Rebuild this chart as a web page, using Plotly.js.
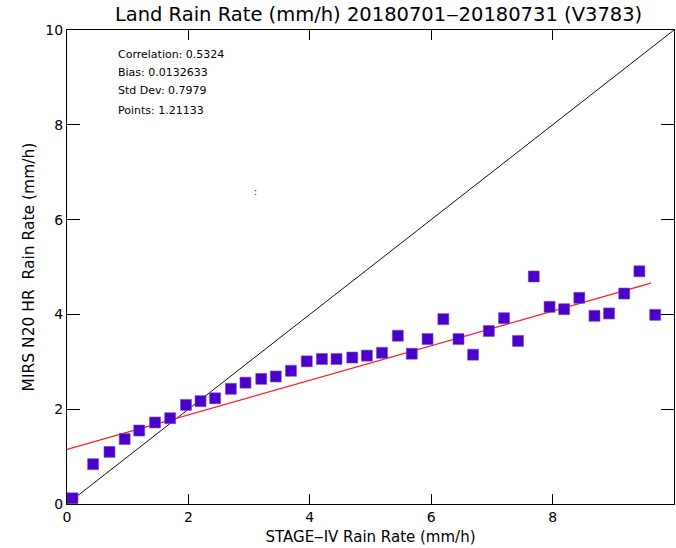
<!DOCTYPE html>
<html>
<head>
<meta charset="utf-8">
<script src="https://cdn.plot.ly/plotly-3.0.1.min.js"></script>
<style>html,body{margin:0;padding:0;background:#fff;}#chart{width:676px;height:548px;}</style>
</head>
<body>
<div id="chart"></div>
<script>
// Binned scatter: STAGE-IV rain rate (x) vs MIRS N20 HR rain rate (y)
const stageIV = [0.09, 0.43, 0.70, 0.95, 1.19, 1.45, 1.70, 1.96, 2.20, 2.44,
                 2.70, 2.94, 3.20, 3.44, 3.69, 3.95, 4.20, 4.44, 4.70, 4.94,
                 5.19, 5.45, 5.68, 5.94, 6.20, 6.45, 6.69, 6.95, 7.20, 7.43,
                 7.69, 7.95, 8.19, 8.44, 8.69, 8.93, 9.18, 9.43, 9.69];
const mirs    = [0.12, 0.84, 1.10, 1.37, 1.55, 1.72, 1.81, 2.09, 2.17, 2.23,
                 2.43, 2.56, 2.64, 2.69, 2.81, 3.01, 3.06, 3.06, 3.09, 3.13,
                 3.19, 3.55, 3.17, 3.48, 3.90, 3.48, 3.15, 3.65, 3.92, 3.44,
                 4.80, 4.16, 4.11, 4.35, 3.97, 4.02, 4.44, 4.91, 3.99];
// Fitted (red) line end points
const fitX = [0, 9.62];
const fitY = [1.15, 4.66];
// 1:1 reference line
const oneX = [0, 10];
const oneY = [0, 10];
// Statistics text
const statLabels = ["Correlation: 0.5324", "Bias: 0.0132633", "Std Dev: 0.7979", "Points: 1.21133"];

const traces = [
  {x: oneX, y: oneY, mode: 'lines', line: {color: '#111', width: 1}, hoverinfo: 'skip'},
  {x: fitX, y: fitY, mode: 'lines', line: {color: '#ff1a1a', width: 1.2}, hoverinfo: 'skip'},
  {x: stageIV, y: mirs, mode: 'markers', cliponaxis: false,
   marker: {symbol: 'square', size: 11, color: '#4a00c8', line: {color: '#7a4ad8', width: 0.6}}}
];

const statY = [0.949, 0.911, 0.872, 0.831];
const annotations = statLabels.map((t, i) => ({
  text: t, xref: 'paper', yref: 'paper', x: 0.08, y: statY[i],
  xanchor: 'left', yanchor: 'middle', showarrow: false,
  font: {family: 'DejaVu Sans, sans-serif', size: 11, color: '#000'}
}));
annotations.push({text: ':', xref: 'x', yref: 'y', x: 3.1, y: 6.58, showarrow: false,
  font: {family: 'DejaVu Sans, sans-serif', size: 9, color: '#000'}});

function axis(major, title, standoff, size) {
  return {
    range: [0, 10], autorange: false, showgrid: false, zeroline: false,
    showline: true, linecolor: '#000', linewidth: 1, mirror: 'ticks',
    tickmode: 'linear', tick0: 0, dtick: 2,
    ticks: 'inside', ticklen: major, tickcolor: '#000', tickwidth: 1,
    tickfont: {family: 'DejaVu Sans, sans-serif', size: 14, color: '#000'},
    title: {text: title, standoff: standoff, font: {family: 'DejaVu Sans, sans-serif', size: size, color: '#000'}}
  };
}

const layout = {
  width: 676, height: 548, showlegend: false,
  paper_bgcolor: '#fff', plot_bgcolor: '#fff',
  margin: {l: 67, r: 2, t: 30, b: 44, pad: 0},
  title: {text: 'Land Rain Rate (mm/h) 20180701\u201220180731 (V3783)', x: 0.56, xanchor: 'center', y: 0.975, yanchor: 'middle',
          font: {family: 'DejaVu Sans, sans-serif', size: 19.5, color: '#000'}},
  xaxis: axis(10, 'STAGE\u2012IV Rain Rate (mm/h)', 7, 15),
  yaxis: axis(13, 'MIRS N20 HR  Rain Rate (mm/h)', 6, 15.5),
  annotations: annotations
};

Plotly.newPlot('chart', traces, layout, {displayModeBar: false, staticPlot: true});
</script>
</body>
</html>
